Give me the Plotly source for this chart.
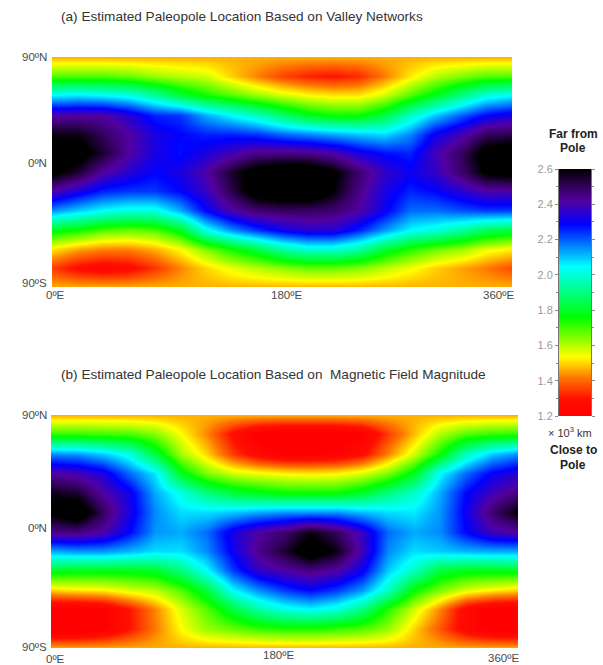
import plotly.graph_objects as go

W, H = 603, 665
lons = list(range(0, 361, 20))
lats = [90, 75, 60, 45, 30, 15, 0, -15, -30, -45, -60, -75, -90]

valley = [
 [1.47]*19,
 [1.69,1.69,1.69,1.67,1.63,1.60,1.58,1.50,1.43,1.36,1.32,1.30,1.33,1.42,1.52,1.60,1.65,1.69,1.69],
 [2.05,2.07,2.05,2.02,1.94,1.83,1.75,1.69,1.63,1.58,1.54,1.52,1.52,1.58,1.69,1.79,1.905,2.01,2.05],
 [2.41,2.42,2.42,2.35,2.26,2.24,2.13,2.05,1.98,1.88,1.79,1.75,1.75,1.83,1.98,2.10,2.20,2.29,2.33],
 [2.58,2.58,2.50,2.42,2.33,2.29,2.26,2.26,2.24,2.19,2.16,2.13,2.10,2.08,2.16,2.31,2.39,2.50,2.52],
 [2.66,2.65,2.55,2.42,2.33,2.28,2.33,2.39,2.45,2.46,2.45,2.41,2.33,2.28,2.26,2.39,2.50,2.65,2.68],
 [2.63,2.55,2.42,2.35,2.29,2.33,2.41,2.55,2.65,2.70,2.70,2.62,2.48,2.37,2.31,2.37,2.48,2.62,2.65],
 [2.41,2.33,2.26,2.24,2.24,2.29,2.37,2.52,2.66,2.70,2.70,2.60,2.45,2.33,2.26,2.29,2.35,2.41,2.41],
 [2.16,2.10,2.05,2.02,2.02,2.13,2.29,2.41,2.48,2.50,2.50,2.48,2.42,2.31,2.19,2.19,2.22,2.24,2.24],
 [1.79,1.75,1.69,1.67,1.69,1.79,2.02,2.15,2.24,2.31,2.35,2.35,2.26,2.15,2.05,2.01,1.94,1.86,1.83],
 [1.52,1.46,1.43,1.43,1.47,1.54,1.65,1.75,1.83,1.94,2.00,2.00,1.94,1.82,1.73,1.67,1.63,1.56,1.53],
 [1.35,1.28,1.25,1.27,1.34,1.43,1.50,1.56,1.60,1.64,1.67,1.67,1.65,1.60,1.55,1.50,1.46,1.42,1.37],
 [1.47]*19,
]

magnetic = [
 [1.47]*19,
 [1.72,1.72,1.71,1.70,1.65,1.54,1.43,1.28,1.18,1.15,1.15,1.15,1.20,1.35,1.48,1.61,1.69,1.72,1.73],
 [2.16,2.15,2.10,2.02,1.83,1.62,1.50,1.35,1.25,1.20,1.20,1.22,1.28,1.43,1.58,1.76,1.98,2.10,2.16],
 [2.42,2.39,2.33,2.19,2.07,1.79,1.65,1.58,1.55,1.53,1.52,1.53,1.57,1.65,1.79,2.05,2.19,2.30,2.35],
 [2.58,2.55,2.42,2.32,2.13,2.02,1.905,1.83,1.79,1.76,1.76,1.76,1.81,1.905,1.99,2.13,2.29,2.39,2.46],
 [2.62,2.70,2.50,2.33,2.16,2.08,2.08,2.10,2.13,2.15,2.15,2.15,2.11,2.08,2.07,2.15,2.31,2.48,2.60],
 [2.45,2.46,2.41,2.29,2.15,2.13,2.19,2.33,2.42,2.48,2.58,2.50,2.37,2.19,2.13,2.16,2.29,2.39,2.42],
 [2.13,2.15,2.15,2.12,2.08,2.08,2.16,2.31,2.45,2.55,2.68,2.58,2.39,2.16,2.08,2.10,2.12,2.13,2.13],
 [1.81,1.79,1.79,1.79,1.81,1.905,2.05,2.24,2.37,2.42,2.46,2.42,2.31,2.10,1.98,1.83,1.79,1.79,1.80],
 [1.50,1.52,1.53,1.57,1.60,1.69,1.83,2.05,2.16,2.24,2.29,2.24,2.15,1.98,1.76,1.65,1.57,1.53,1.50],
 [1.18,1.17,1.20,1.30,1.43,1.57,1.69,1.83,1.95,2.02,2.05,2.01,1.905,1.73,1.58,1.43,1.25,1.18,1.18],
 [1.15,1.15,1.20,1.30,1.42,1.54,1.63,1.67,1.71,1.73,1.73,1.71,1.69,1.63,1.50,1.38,1.25,1.18,1.17],
 [1.47]*19,
]

bar_levels = [1.2,1.3,1.36,1.42,1.48,1.54,1.65,1.76,1.9,2.05,2.17,2.29,2.35,2.42,2.5,2.55,2.6]
bar_ticks = [1.2,1.4,1.6,1.8,2.0,2.2,2.4,2.6]
bar_minor = [1.3,1.5,1.7,1.9,2.1,2.3,2.5]
title_a = "(a) Estimated Paleopole Location Based on Valley Networks"
title_b = "(b) Estimated Paleopole Location Based on\u00a0 Magnetic Field Magnitude"

ZMIN, ZMAX = 1.2, 2.6
def stop(v): return (v - ZMIN) / (ZMAX - ZMIN)
scale = [
    [stop(1.2), "#ff0000"], [stop(1.3), "#ff1000"], [stop(1.42), "#ff7800"],
    [stop(1.54), "#ffff00"], [stop(1.76), "#00ff00"], [stop(2.05), "#00ffff"],
    [stop(2.29), "#0000ff"], [stop(2.42), "#5200a0"], [stop(2.5), "#350060"], [stop(2.6), "#000000"],
]

def px_x(a, b): return [a / W, b / W]
def px_y(top, bottom): return [1 - bottom / H, 1 - top / H]

fig = go.Figure()
for z, xa, ya in [(valley, "x", "y"), (magnetic, "x2", "y2")]:
    fig.add_trace(go.Heatmap(x=lons, y=lats, z=z, zmin=ZMIN, zmax=ZMAX, colorscale=scale,
                             zsmooth="best", showscale=False, xaxis=xa, yaxis=ya))
fig.add_trace(go.Heatmap(x=[0, 1], y=bar_levels, z=[[v, v] for v in bar_levels],
                         zmin=ZMIN, zmax=ZMAX, colorscale=scale, zsmooth="best",
                         showscale=False, xaxis="x3", yaxis="y3"))

hidden = dict(showticklabels=False, ticks="", showgrid=False, zeroline=False, showline=False)
tick_col = "#8a8a8a"
fig.update_layout(
    width=W, height=H, autosize=False, margin=dict(l=0, r=0, t=0, b=0, autoexpand=False),
    paper_bgcolor="white", plot_bgcolor="white", showlegend=False,
    font=dict(family="Liberation Sans, Arial, sans-serif", size=11, color="#333333"),
    xaxis=dict(domain=px_x(52, 512), range=[0, 360], **hidden),
    yaxis=dict(domain=px_y(57, 287), range=[-90, 90], **hidden),
    xaxis2=dict(domain=px_x(51, 518), range=[0, 360], **hidden),
    yaxis2=dict(domain=px_y(415, 648), range=[-90, 90], **hidden),
    xaxis3=dict(domain=px_x(559, 591), range=[0, 1], **hidden),
    yaxis3=dict(domain=px_y(169, 416), range=[1.2, 2.6], tickvals=bar_ticks,
                ticktext=[f"{t:.1f}" for t in bar_ticks], ticks="outside", ticklen=3,
                tickcolor=tick_col, tickfont=dict(size=11, color="#9a9a9a"),
                showgrid=False, zeroline=False, showline=True, linecolor="#777777", linewidth=1,
                mirror="ticks",
                minor=dict(tickvals=bar_minor, ticks="outside", ticklen=2, tickcolor=tick_col),
                anchor="x3"),
)

def label(x, y, text, size=11.5, color="#4a4a4a", bold=False, anchor="center"):
    if bold:
        text = f"<b>{text}</b>"
    fig.add_annotation(xref="paper", yref="paper", x=x / W, y=1 - y / H, text=text, showarrow=False,
                       xanchor=anchor, yanchor="middle", font=dict(size=size, color=color), align="center")

label(59, 16, title_a, size=13.6, color="#333333", anchor="left")
label(59, 374, title_b, size=13.6, color="#333333", anchor="left")
for x, y, t in [(49, 57, "90ºN"), (49, 163, "0ºN"), (49, 283, "90ºS"),
                (49, 415, "90ºN"), (49, 528, "0ºN"), (49, 647, "90ºS")]:
    label(x, y, t, anchor="right")
for x, y, t in [(55, 295, "0ºE"), (286, 295, "180ºE"), (498, 295, "360ºE"),
                (55, 659, "0ºE"), (278, 655, "180ºE"), (503, 658, "360ºE")]:
    label(x, y, t)
label(573, 134, "Far from", size=12, color="#222222", bold=True)
label(573, 148, "Pole", size=12, color="#222222", bold=True)
label(570, 432, "× 10<sup>3</sup> km", size=11, color="#333333")
label(573, 450, "Close to", size=12, color="#222222", bold=True)
label(573, 465, "Pole", size=12, color="#222222", bold=True)

fig.write_html("out.html", config=dict(displayModeBar=False),
               post_script="document.body.style.margin='0';document.documentElement.style.margin='0';"
               "var d=document.getElementById('{plot_id}');d.style.position='absolute';d.style.left='0';d.style.top='0';")
